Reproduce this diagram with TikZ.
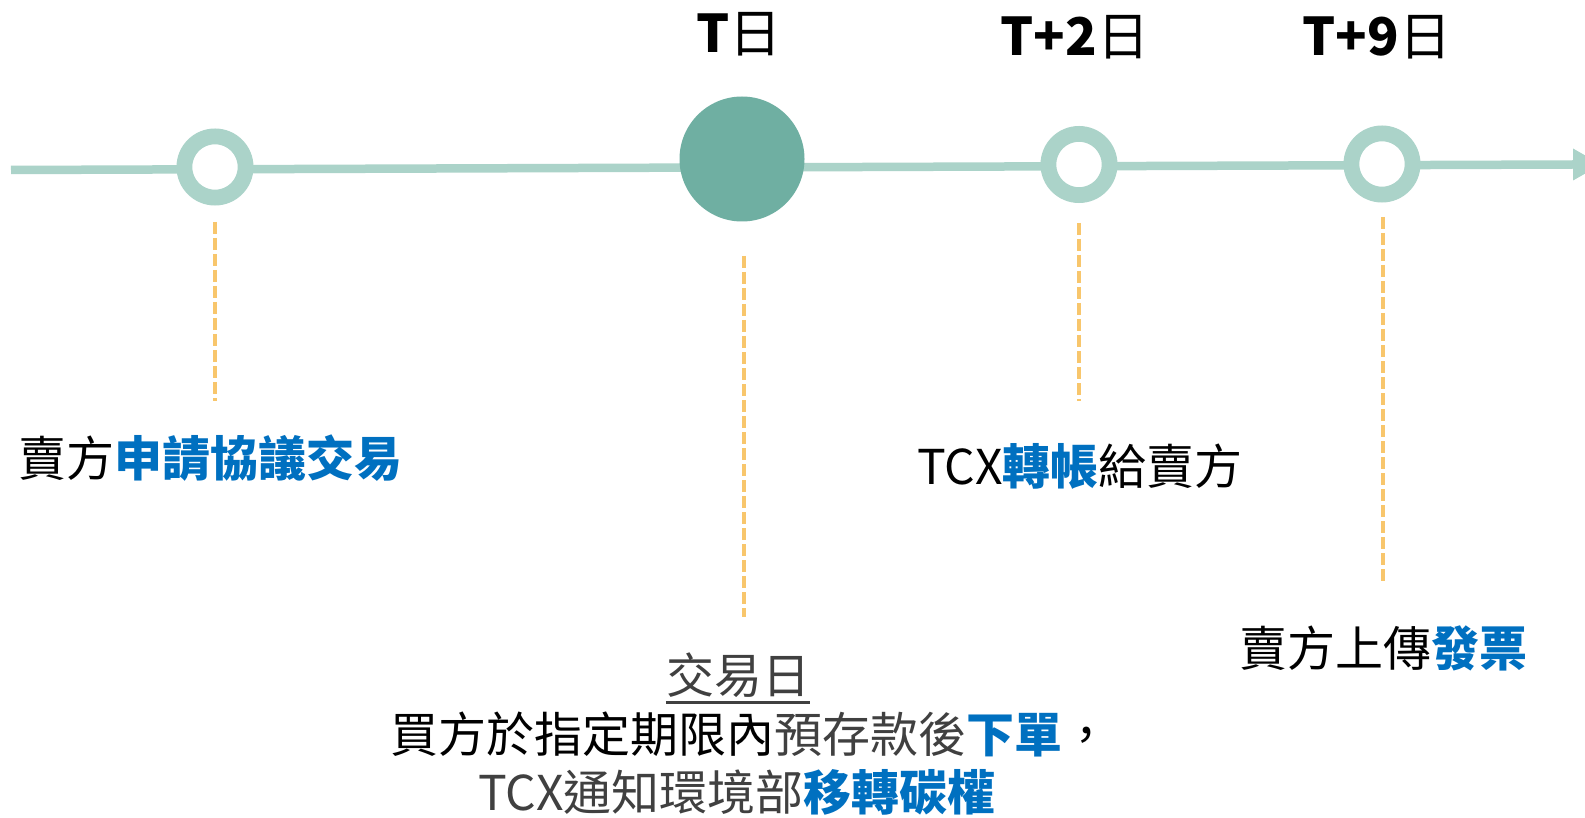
\documentclass[tikz,border=0pt]{standalone}
\usepackage{fontspec}
\setmainfont{Noto Sans CJK TC}
\definecolor{ringc}{HTML}{ABD3C9}
\definecolor{bigc}{HTML}{6FAFA2}
\definecolor{dashc}{HTML}{F8C66C}
\definecolor{blu}{HTML}{0070C0}
\definecolor{gry}{HTML}{404040}
\newcommand\hl[1]{\textcolor{blu}{\bfseries #1}}
\tikzset{
  ringnode/.style={circle,draw=ringc,line width=15.8pt,fill=white,minimum size=61.2pt,inner sep=0pt},
  bignode/.style={circle,fill=bigc,minimum size=125pt,inner sep=0pt},
  tline/.style={draw=ringc,line width=8.5pt},
  guide/.style={draw=dashc,line width=4.3pt,dash pattern=on 12pt off 4pt},
  daylabel/.style={font=\fontsize{52}{60}\selectfont,inner sep=0pt,text=black},
  body/.style={font=\fontsize{48}{56}\selectfont,inner sep=0pt},
}
\begin{document}
\begin{tikzpicture}[x=1pt,y=-1pt]
\useasboundingbox[fill=white] (0,0) rectangle (1585,818);
% timeline
\coordinate (start) at (11,170);
\coordinate (end) at (1573,164.5);
\draw[tline] (start) -- (end);
\fill[ringc] (end) ++(0,-16) -- ++(28,16) -- ++(-28,16) -- cycle;
\node[ringnode] (c1) at (215,167) {};
\node[bignode] (c2) at (742,159) {};
\node[ringnode] (c3) at (1079,164.5) {};
\node[ringnode] (c4) at (1382,164) {};
% dashed guides
\coordinate (d1a) at (215,222); \coordinate (d1b) at (215,401);
\coordinate (d2a) at (744,256); \coordinate (d2b) at (744,617);
\coordinate (d3a) at (1079,223); \coordinate (d3b) at (1079,401);
\coordinate (d4a) at (1383,217); \coordinate (d4b) at (1383,581);
\draw[guide] (d1a) -- (d1b);
\draw[guide] (d2a) -- (d2b);
\draw[guide] (d3a) -- (d3b);
\draw[guide] (d4a) -- (d4b);
% day labels
\node[daylabel] (t0) at (739,34) {\bfseries T\mdseries 日};
\node[daylabel] (t2) at (1075,37) {\bfseries T+2\mdseries 日};
\node[daylabel] (t9) at (1377,37) {\bfseries T+9\mdseries 日};
% event labels
\node[body,text=black] (e1) at (211,458) {賣方\hl{申請協議交易}};
\node[body,text=black] (e3) at (1080,466) {TCX\hl{轉帳}給賣方};
\node[body,text=black] (e4) at (1383,648) {賣方上傳\hl{發票}};
\node[body,text=gry] (e2) at (738,675) {交易日};
\draw[gry,line width=3pt] ([yshift=-5pt]e2.south west) -- ([yshift=-5pt]e2.south east);
\node[body,text=black] (e2b) at (750,734) {買方於指定期限內\textcolor{gry}{預存款後}\hl{下單}，};
\node[body,text=gry] (e2c) at (737,792) {TCX通知環境部\hl{移轉碳權}};
\end{tikzpicture}
\end{document}
